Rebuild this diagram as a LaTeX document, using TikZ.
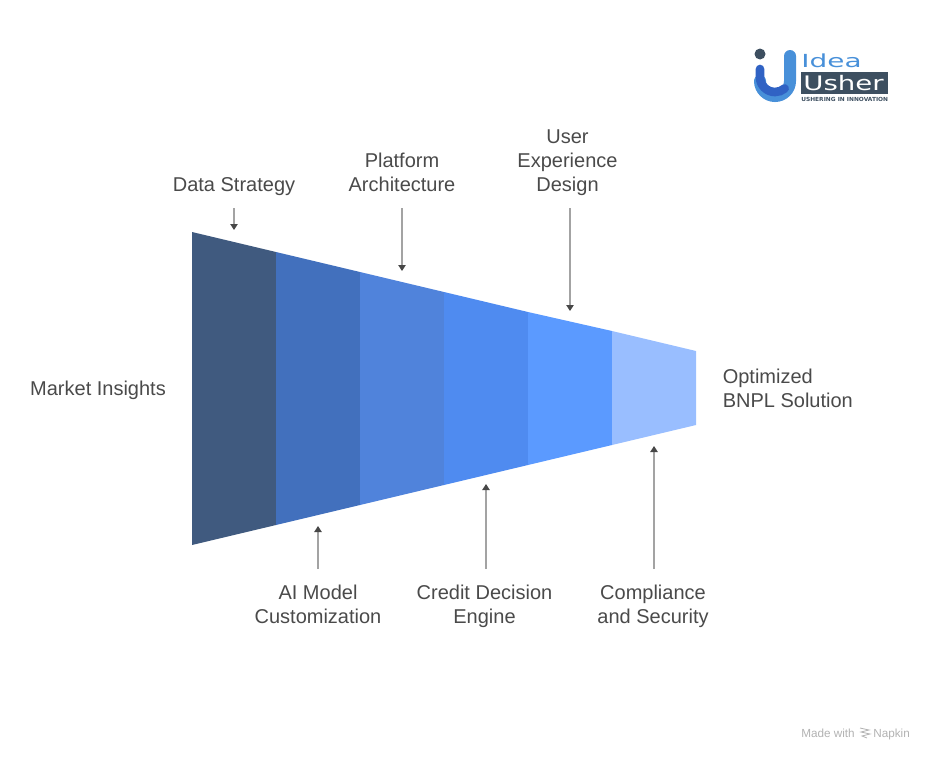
\documentclass[tikz,border=0pt]{standalone}
\usepackage{fontspec}
\setmainfont{Liberation Sans}
\newfontfamily\logofont{DejaVu Sans}
\usetikzlibrary{arrows.meta}
\definecolor{bandA}{HTML}{405A7F}
\definecolor{bandB}{HTML}{4270BD}
\definecolor{bandC}{HTML}{5083DB}
\definecolor{bandD}{HTML}{4F8BF0}
\definecolor{bandE}{HTML}{5B9AFF}
\definecolor{bandF}{HTML}{99BEFF}
\definecolor{textgrey}{HTML}{4A4A4A}
\definecolor{logoslate}{HTML}{3D4F60}
\definecolor{logolight}{HTML}{4890D9}
\definecolor{logodark}{HTML}{3062C4}
\tikzset{
	label/.style={font=\fontsize{15}{18}\selectfont, text=textgrey, align=center, inner xsep=0pt, inner ysep=0pt},
	upperlabel/.style={label, anchor=south, inner ysep=6.75pt},
	lowerlabel/.style={label, anchor=north, inner ysep=9.75pt},
	pointer/.style={draw=black!36, line width=1.1pt, -{Triangle[color=black!72, length=4.5pt, width=5.5pt]}},
	footer/.style={inner sep=0pt, anchor=base west, text=black!30, font=\fontsize{8.8}{10}\selectfont},
	napkinmark/.style={draw=black!30, line width=0.6pt}
}

\begin{document}
\begin{tikzpicture}[x=0.75pt, y=-0.75pt]
			%%%%% START %%%%%
			\useasboundingbox (0, 0) rectangle (934, 761);
			
			\fill[bandA] (192, 232) -- (276, 252) -- (276, 525) -- (192, 545) -- cycle;
			\fill[bandB] (276, 252) -- (360, 272) -- (360, 505) -- (276, 525) -- cycle;
			\fill[bandC] (360, 272) -- (444, 292) -- (444, 485) -- (360, 505) -- cycle;
			\fill[bandD] (444, 292) -- (528, 312) -- (528, 465) -- (444, 485) -- cycle;
			\fill[bandE] (528, 312) -- (612, 331) -- (612, 445) -- (528, 465) -- cycle;
			\fill[bandF] (612, 331) -- (696, 351) -- (696, 425) -- (612, 445) -- cycle;
			
			\node[label] (market) at (98, 390) {Market Insights};
			\node[label, align=left, anchor=west] (solution) at (722.5, 388) {Optimized\\BNPL Solution};
			
			\node[upperlabel] (data) at (234, 208) {\strut Data Strategy};
			\node[upperlabel] (platform) at (402, 208) {Platform\\\strut Architecture};
			\node[upperlabel] (experience) at (567.5, 208) {User\\Experience\\\strut Design};
			
			\node[lowerlabel] (model) at (318, 569) {\strut AI Model\\Customization};
			\node[lowerlabel] (credit) at (484.5, 569) {\strut Credit Decision\\Engine};
			\node[lowerlabel] (compliance) at (653, 569) {\strut Compliance\\and Security};
			
			\coordinate (dataTip) at (234, 230);
			\coordinate (platformTip) at (402, 271);
			\coordinate (experienceTip) at (570, 311);
			\coordinate (modelTip) at (318, 526);
			\coordinate (creditTip) at (486, 484);
			\coordinate (complianceTip) at (654, 446);
			
			\draw[pointer] (data.south -| dataTip) -- (dataTip);
			\draw[pointer] (platform.south -| platformTip) -- (platformTip);
			\draw[pointer] (experience.south -| experienceTip) -- (experienceTip);
			\draw[pointer] (model.north -| modelTip) -- (modelTip);
			\draw[pointer] (credit.north -| creditTip) -- (creditTip);
			\draw[pointer] (compliance.north -| complianceTip) -- (complianceTip);
			
			% logo
			\draw[line width=9pt, color=logolight, line cap=round] (790, 56) -- (790, 81) arc (0:180:15);
			\draw[line width=6.5pt, color=logodark, line cap=round] (760, 69) -- (760, 77) arc (180:50:15);
			\fill[logoslate] (760, 54) circle (5.5);
			\fill[logoslate] (801, 72) rectangle (888, 94);
			\node[inner sep=0pt, anchor=west, text=logolight, font=\logofont\fontsize{13.5}{14}\selectfont, xscale=1.55] (ideaword) at (801, 61) {Idea};
			\node[inner sep=0pt, anchor=west, text=white, font=\logofont\fontsize{15}{15}\selectfont, xscale=1.38] (usherword) at (803, 83) {Usher};
			\node[inner sep=0pt, anchor=west, text=logoslate, font=\logofont\bfseries\fontsize{4.2}{5}\selectfont, xscale=1.05] (taglineword) at (801, 99) {USHERING IN INNOVATION};
			
			% footer
			\node[footer] (madewith) at (801, 737) {Made with};
			\node[footer] (napkin) at (873, 737) {Napkin};
			\draw[napkinmark] (860, 728) -- (869, 730) -- (861, 732) -- (870, 734) -- (862, 736) -- (867, 738);
			
			%%%%% END %%%%%
		\end{tikzpicture}
\end{document}
